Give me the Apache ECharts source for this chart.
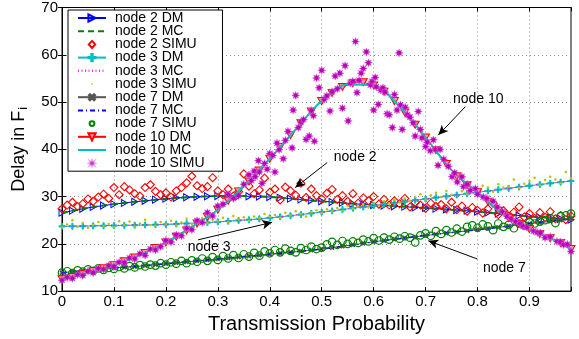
<!DOCTYPE html>
<html>
<head>
<meta charset="utf-8">
<script src="https://cdn.jsdelivr.net/npm/echarts@6/dist/echarts.min.js"></script>
<style>html,body{margin:0;padding:0;background:#fff}#c{width:579px;height:339px}</style>
</head>
<body>
<div id="c"></div>
<script>
// ---------- data ----------
const xTicks = [0,0.1,0.2,0.3,0.4,0.5,0.6,0.7,0.8,0.9];
const yTicks = [10,20,30,40,50,60,70];

const dmX = [0,0.02,0.04,0.06,0.08,0.10,0.12,0.14,0.16,0.18,0.20,0.22,0.24,0.26,0.28,0.30,0.32,0.34,0.36,0.38,0.40,0.42,0.44,0.46,0.48,0.50,0.52,0.54,0.56,0.58,0.60,0.62,0.64,0.66,0.68,0.70,0.72,0.74,0.76,0.78,0.80,0.82,0.84,0.86,0.88,0.90,0.92,0.94,0.96,0.98];
const mcX = [0,0.05,0.10,0.15,0.20,0.25,0.30,0.35,0.40,0.45,0.50,0.55,0.60,0.65,0.70,0.75,0.80,0.85,0.90,0.95,0.98];
const simX = [0,0.01,0.02,0.03,0.04,0.05,0.06,0.07,0.08,0.09,0.10,0.11,0.12,0.13,0.14,0.15,0.16,0.17,0.18,0.19,0.20,0.21,0.22,0.23,0.24,0.25,0.26,0.27,0.28,0.29,0.30,0.31,0.32,0.33,0.34,0.35,0.36,0.37,0.38,0.39,0.40,0.41,0.42,0.43,0.44,0.45,0.46,0.47,0.48,0.49,0.50,0.51,0.52,0.53,0.54,0.55,0.56,0.57,0.58,0.59,0.60,0.61,0.62,0.63,0.64,0.65,0.66,0.67,0.68,0.69,0.70,0.71,0.72,0.73,0.74,0.75,0.76,0.77,0.78,0.79,0.80,0.81,0.82,0.83,0.84,0.85,0.86,0.87,0.88,0.89,0.90,0.91,0.92,0.93,0.94,0.95,0.96,0.97,0.98];

const node2DM = [26.6,27.0,27.4,27.8,28.1,28.4,28.65,28.9,29.1,29.35,29.55,29.7,29.85,29.95,30.05,30.1,30.1,30.1,30.05,30.0,29.9,29.75,29.55,29.4,29.2,29.0,28.85,28.7,28.5,28.35,28.2,28.1,27.95,27.85,27.7,27.6,27.45,27.3,27.15,27.0,26.8,26.6,26.4,26.2,26.0,25.8,25.6,25.45,25.3,25.1];
const node2MC = [26.5,27.6,28.4,29.0,29.5,29.9,30.1,30.1,29.9,29.45,29.0,28.6,28.2,27.9,27.6,27.2,26.8,26.3,25.8,25.4,25.1];
const node2SIMU = [27.4,28.2,28.8,27.9,28.5,29.5,29.0,29.9,30.5,29.6,31.9,30.4,32.1,31.4,30.6,30.1,31.9,32.5,31.1,30.4,30.8,29.9,31.2,31.9,32.9,34.3,32.3,31.7,32.1,34.0,31.2,30.4,31.6,30.1,31.0,34.8,32.2,30.6,31.4,33.9,30.9,31.6,29.3,32.0,31.2,30.3,32.8,29.8,31.6,30.2,29.5,30.7,31.5,29.4,30.2,29.0,30.6,28.6,29.7,29.1,30.0,28.4,29.4,28.2,29.1,28.5,29.6,27.8,28.7,28.2,27.5,28.6,27.9,28.3,27.4,28.8,27.2,28.0,26.9,27.7,27.1,26.5,27.4,28.6,26.2,27.0,25.9,26.7,27.8,25.7,26.4,25.4,26.6,25.6,26.8,25.3,26.0,25.1,25.9];

const node3DM = [23.7,23.72,23.75,23.8,23.83,23.87,23.9,23.95,24.0,24.05,24.1,24.2,24.3,24.4,24.5,24.65,24.8,24.95,25.1,25.3,25.5,25.72,25.95,26.2,26.45,26.7,26.97,27.25,27.53,27.8,28.1,28.38,28.66,28.94,29.22,29.5,29.78,30.06,30.34,30.62,30.9,31.18,31.46,31.74,32.02,32.3,32.55,32.8,33.05,33.3];
const node3MC = [23.7,23.8,23.9,24.0,24.15,24.35,24.65,25.0,25.5,26.1,26.7,27.4,28.1,28.8,29.5,30.2,30.9,31.6,32.3,32.9,33.3];
const node3SIMU = [23.5,24.1,25.0,23.6,24.4,23.4,24.0,24.6,23.7,24.2,23.5,24.8,24.0,24.7,23.6,24.3,25.1,24.0,23.8,24.6,24.2,24.9,23.9,24.5,25.3,24.2,24.8,25.4,24.4,25.1,24.8,25.5,24.6,25.9,25.2,25.6,24.9,25.8,25.4,26.3,25.7,26.1,25.5,26.6,26.0,26.9,26.3,25.8,26.7,27.1,26.5,27.3,26.9,27.6,27.0,28.0,27.4,27.9,28.4,27.7,28.6,28.1,29.0,28.5,29.4,28.7,29.6,29.1,29.9,30.5,29.4,30.3,30.8,29.9,31.2,30.4,32.9,31.1,30.6,31.6,30.8,32.3,31.9,31.0,32.6,31.9,32.1,33.6,31.8,32.7,33.3,34.0,32.4,33.5,34.2,33.6,32.8,35.2,33.9];

const node7DM = [13.9,14.1,14.3,14.5,14.7,14.9,15.05,15.2,15.4,15.6,15.8,16.0,16.2,16.4,16.6,16.8,17.0,17.2,17.4,17.6,17.8,18.0,18.2,18.45,18.65,18.9,19.2,19.5,19.8,20.1,20.45,20.7,21.0,21.25,21.5,21.75,22.0,22.25,22.5,22.75,23.0,23.25,23.5,23.75,24.0,24.25,24.5,24.75,25.0,25.25];
const node7MC = [13.9,14.4,14.9,15.3,15.8,16.3,16.8,17.3,17.8,18.3,18.9,19.6,20.4,21.1,21.8,22.4,23.0,23.6,24.3,24.9,25.25];
const node7SIMU = [13.9,14.2,13.8,14.4,14.1,14.6,14.3,14.8,14.5,14.9,14.7,15.1,14.8,15.3,15.0,15.5,15.2,15.6,15.4,15.9,15.6,16.1,15.8,16.4,15.9,16.5,16.2,16.9,16.4,17.2,16.6,17.4,16.9,17.6,17.0,17.8,17.3,18.1,17.5,18.4,18.0,18.7,18.2,19.0,18.5,18.2,19.1,18.7,19.4,18.9,19.2,19.9,20.4,19.8,20.6,20.0,20.5,20.2,20.9,20.5,21.2,20.7,21.3,20.9,21.5,21.1,21.6,21.3,20.3,21.8,22.2,21.7,22.7,22.1,22.9,22.4,23.2,22.6,23.6,23.9,23.4,24.1,23.7,22.9,24.3,23.6,24.0,23.3,24.3,23.9,24.6,24.3,24.7,25.0,25.4,24.4,25.8,26.0,26.4];

const node10DM = [12.5,13.0,13.55,14.2,14.85,15.5,16.3,17.1,18.05,19.1,20.3,21.5,22.85,24.3,25.7,27.2,29.1,31.1,33.2,35.5,38.0,40.5,43.0,45.5,48.0,50.2,51.9,53.2,54.0,54.2,53.5,52.2,50.2,47.8,45.2,42.5,39.8,36.9,34.3,32.4,30.9,28.9,27.0,25.5,24.2,23.1,22.1,21.2,20.2,18.9];
const node10MC = [12.5,13.9,15.5,17.6,20.3,23.6,27.2,32.2,38.0,44.2,50.2,53.7,53.5,49.0,42.5,35.6,30.9,26.2,23.1,20.7,18.9];
const node10SIMU = [[0,12.3],[0.01,12.9],[0.02,12.7],[0.03,13.5],[0.04,13.3],[0.05,14.2],[0.06,13.9],[0.07,14.8],[0.08,14.6],[0.09,15.4],[0.10,15.2],[0.11,16.1],[0.12,16.0],[0.13,17.0],[0.14,16.8],[0.15,17.9],[0.16,17.6],[0.17,18.9],[0.18,18.7],[0.19,19.4],[0.20,20.7],[0.21,20.4],[0.22,21.9],[0.23,21.7],[0.24,23.3],[0.25,23.0],[0.26,24.9],[0.27,24.5],[0.28,26.6],[0.29,25.9],[0.30,28.0],[0.31,28.4],[0.32,30.4],[0.33,29.6],[0.34,30.2],[0.35,32.6],[0.36,34.6],[0.365,33.4],[0.37,35.4],[0.372,34.2],[0.378,37.6],[0.38,35.2],[0.385,32.8],[0.39,37.0],[0.395,35.8],[0.40,39.1],[0.406,38.7],[0.41,35.2],[0.414,41.3],[0.418,39.9],[0.426,38.0],[0.43,41.9],[0.435,43.8],[0.443,40.3],[0.445,48.3],[0.45,51.4],[0.455,44.6],[0.46,45.8],[0.465,46.3],[0.47,42.1],[0.476,42.8],[0.48,48.2],[0.484,47.1],[0.486,41.7],[0.49,55.1],[0.495,53.0],[0.50,56.7],[0.505,50.6],[0.51,51.3],[0.516,48.1],[0.52,52.2],[0.526,55.5],[0.53,52.8],[0.535,56.1],[0.54,48.7],[0.545,57.7],[0.551,46.0],[0.555,54.0],[0.56,54.4],[0.565,62.8],[0.568,52.0],[0.572,54.6],[0.576,56.1],[0.58,57.1],[0.586,60.6],[0.59,58.3],[0.594,53.6],[0.597,54.4],[0.60,48.3],[0.603,55.2],[0.605,53.2],[0.609,49.5],[0.614,52.5],[0.618,53.0],[0.622,52.1],[0.626,47.5],[0.63,47.3],[0.636,44.6],[0.64,51.6],[0.645,48.3],[0.649,60.4],[0.652,49.4],[0.655,44.2],[0.661,48.9],[0.665,47.3],[0.67,46.8],[0.676,45.6],[0.68,42.8],[0.686,48.0],[0.69,44.2],[0.693,42.4],[0.70,40.6],[0.703,41.5],[0.709,39.7],[0.715,42.0],[0.719,40.0],[0.724,36.6],[0.728,40.0],[0.735,37.9],[0.744,36.4],[0.751,34.2],[0.756,35.0],[0.761,33.1],[0.77,34.2],[0.773,32.1],[0.78,32.6],[0.786,31.3],[0.796,31.7],[0.80,30.5],[0.811,29.9],[0.818,29.6],[0.83,29.0],[0.838,27.8],[0.848,26.8],[0.857,25.8],[0.865,25.3],[0.873,24.7],[0.882,24.3],[0.888,23.7],[0.895,23.5],[0.908,22.7],[0.915,22.4],[0.921,22.3],[0.93,21.3],[0.94,21.5],[0.953,20.5],[0.96,20.4],[0.966,19.8],[0.973,19.9],[0.98,18.4]];

// annotations: [label, textX, textY, arrowFromX, arrowFromY, arrowToX, arrowToY]
const annotations = [
  ['node 10', 0.8015, 50.6, 0.7765, 49.0, 0.7245, 43.0],
  ['node 2', 0.5645, 38.4, 0.5106, 37.2, 0.449, 31.9],
  ['node 3', 0.2832, 19.4, 0.262, 20.85, 0.4046, 24.55],
  ['node 7', 0.8516, 14.9, 0.7996, 16.8, 0.7052, 20.65]
];

// ---------- styling ----------
const FONT = 'Liberation Sans, Arial, Helvetica, sans-serif';
const pts = (xs, ys) => xs.map((x, i) => [x, ys[i]]);
const SYM_RTRI = 'path://M0,0L10,6L0,12Z';
const SYM_DTRI = 'path://M0,0L12,0L6,10Z';
const SYM_PLUS = 'path://M4,0h2v4h4v2h-4v4h-2v-4h-4v-2h4z';
const SYM_STAR = 'path://M10,0L4.6,1.9L7.07,7.07L1.9,4.6L0,10L-1.9,4.6L-7.07,7.07L-4.6,1.9L-10,0L-4.6,-1.9L-7.07,-7.07L-1.9,-4.6L0,-10L1.9,-4.6L7.07,-7.07L4.6,-1.9Z';
// legend icons for scatter series (box 28x9, glyph centred)
const ICON_DIAMOND = 'path://M0,0M28,9M14,1L17.2,4.5L14,8L10.8,4.5Z';
const ICON_DOT = 'path://M0,0M28,9M13.3,3.8h1.4v1.4h-1.4Z';
const ICON_CIRCLE = 'path://M0,0M28,9M11.6,4.5A2.4,2.4 0 1 0 16.4,4.5A2.4,2.4 0 1 0 11.6,4.5Z';
const ICON_STAR = 'path://M0,0M28,9M16.8,4.5L15.2,5.1L16,6.5L14.6,5.7L14,7.3L13.4,5.7L12,6.5L12.8,5.1L11.2,4.5L12.8,3.9L12,2.5L13.4,3.3L14,1.7L14.6,3.3L16,2.5L15.2,3.9Z';

let zc = 2;
function dmLine(name, ys, color, symbol, size, fill, rotate) {
  return {
    name, type: 'line', data: pts(dmX, ys), symbol, symbolSize: size, symbolRotate: rotate || 0,
    showAllSymbol: true, animation: false, z: (zc += 0.05),
    lineStyle: { color, width: 1 },
    itemStyle: { color: fill, borderColor: color, borderWidth: 1 }
  };
}
function mcLine(name, ys, color, type, width) {
  return {
    name, type: 'line', data: pts(mcX, ys), symbol: 'none', smooth: 0.35, animation: false, z: (zc += 0.05),
    lineStyle: { color, width, type },
    itemStyle: { color: 'rgba(0,0,0,0)', borderWidth: 0 }
  };
}
function simScatter(name, data, symbol, size, fill, border, bw) {
  return {
    name, type: 'scatter', data, symbol, symbolSize: size, animation: false, z: (zc += 0.05),
    itemStyle: { color: fill, borderColor: border, borderWidth: bw, opacity: 1 }
  };
}

const series = [
  dmLine('node 2 DM', node2DM, '#0000ff', SYM_RTRI, [6, 7], 'rgba(0,0,0,0)'),
  mcLine('node 2 MC', node2MC, '#008000', [6, 4], 2),
  simScatter('node 2 SIMU', pts(simX, node2SIMU), 'diamond', 8, 'rgba(0,0,0,0)', '#ff0000', 1.1),
  dmLine('node 3 DM', node3DM, '#00bfbf', SYM_PLUS, 6, '#00bfbf'),
  mcLine('node 3 MC', node3MC, '#ff00ff', [1, 2.5], 1.2),
  simScatter('node 3 SIMU', pts(simX, node3SIMU), 'circle', 2.5, '#bfbf00', '#bfbf00', 0),
  dmLine('node 7 DM', node7DM, '#555555', SYM_PLUS, 4.5, '#555555', 45),
  mcLine('node 7 MC', node7MC, '#0000ff', [5, 3, 1, 3], 1.5),
  simScatter('node 7 SIMU', pts(simX, node7SIMU), 'circle', 7.5, 'rgba(0,0,0,0)', '#008000', 1.2),
  dmLine('node 10 DM', node10DM, '#ff0000', SYM_DTRI, [8, 7], '#ff9a9a'),
  mcLine('node 10 MC', node10MC, '#00bfbf', 'solid', 2),
  simScatter('node 10 SIMU', node10SIMU, SYM_STAR, 8, '#b800b8', 'rgba(220,90,220,0.55)', 0.8),
  {
    name: 'annot', type: 'line', data: [], animation: false, z: 10,
    markLine: {
      silent: true, animation: false, symbol: ['none', 'arrow'], symbolSize: [7, 10],
      lineStyle: { color: '#000', width: 1, type: 'solid' }, label: { show: false },
      data: annotations.map(a => [{ coord: [a[3], a[4]] }, { coord: [a[5], a[6]] }])
    },
    markPoint: {
      silent: true, animation: false, symbol: 'circle', symbolSize: 1,
      itemStyle: { color: 'rgba(0,0,0,0)' },
      label: { show: true, position: 'inside', color: '#000', fontSize: 14, fontFamily: FONT },
      data: annotations.map(a => ({ coord: [a[1], a[2]], label: { formatter: a[0] } }))
    }
  }
];

const scatterIcons = { 'node 2 SIMU': ICON_DIAMOND, 'node 3 SIMU': ICON_DOT, 'node 7 SIMU': ICON_CIRCLE, 'node 10 SIMU': ICON_STAR };
const legendData = series.slice(0, 12).map(s => scatterIcons[s.name] ? { name: s.name, icon: scatterIcons[s.name] } : { name: s.name });

const gridLine = { show: true, lineStyle: { color: '#8a8a8a', type: [1, 3], width: 1 } };
const option = {
  backgroundColor: '#fff',
  animation: false,
  grid: { left: 62, top: 7, right: 8, bottom: 39, show: true, borderColor: '#000', borderWidth: 1, backgroundColor: 'rgba(0,0,0,0)' },
  legend: {
    data: legendData,
    orient: 'vertical', left: 68, top: 10, selectedMode: false,
    backgroundColor: '#fff', borderColor: '#000', borderWidth: 1,
    padding: [1, 18, 1, 9], itemWidth: 28, itemHeight: 9, itemGap: -0.8,
    textStyle: { fontSize: 14, lineHeight: 12, color: '#000', fontFamily: FONT, padding: [0, 0, 0, 4] }
  },
  xAxis: [{
    type: 'value', min: 0, max: 0.98, interval: 0.1,
    name: 'Transmission Probability', nameLocation: 'middle', nameGap: 14,
    nameTextStyle: { fontSize: 20, color: '#000', fontFamily: FONT },
    axisLine: { show: true, lineStyle: { color: '#000', width: 1 } },
    axisTick: { show: true, inside: true, length: 4, lineStyle: { color: '#000' } },
    axisLabel: { fontSize: 15, color: '#000', fontFamily: FONT, margin: 3,
      formatter: v => (v > 0.95 ? '' : (v === 0 ? '0' : v.toFixed(1))) },
    splitLine: gridLine
  }, {
    type: 'value', min: 0, max: 0.98, interval: 0.1, position: 'top',
    axisLine: { show: true, lineStyle: { color: '#000' } },
    axisTick: { show: true, inside: true, length: 4, lineStyle: { color: '#000' } },
    axisLabel: { show: false }, splitLine: { show: false }
  }],
  yAxis: [{
    type: 'value', min: 10, max: 70, interval: 10,
    name: 'Delay in F{sub|i}', nameLocation: 'middle', nameGap: 23,
    nameTextStyle: { fontSize: 18, color: '#000', fontFamily: FONT,
      rich: { sub: { fontSize: 13, color: '#000', fontFamily: FONT, padding: [10, 0, 0, 1] } } },
    axisLine: { show: true, lineStyle: { color: '#000', width: 1 } },
    axisTick: { show: true, inside: true, length: 4, lineStyle: { color: '#000' } },
    axisLabel: { fontSize: 15, color: '#000', fontFamily: FONT, margin: 4 },
    splitLine: gridLine
  }, {
    type: 'value', min: 10, max: 70, interval: 10, position: 'right',
    axisLine: { show: true, lineStyle: { color: '#000' } },
    axisTick: { show: true, inside: true, length: 4, lineStyle: { color: '#000' } },
    axisLabel: { show: false }, splitLine: { show: false }
  }],
  series
};

const chart = echarts.init(document.getElementById('c'), null, { renderer: 'canvas' });
chart.setOption(option);
</script>
</body>
</html>
